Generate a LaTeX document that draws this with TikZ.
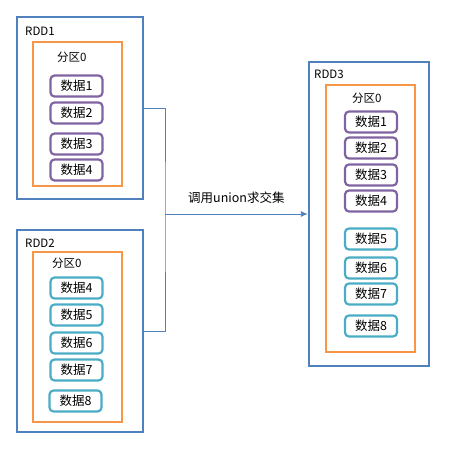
\documentclass[tikz,border=0pt]{standalone}
\usepackage{fontspec}
\setmainfont{Noto Sans CJK SC}
\usepackage{tikz}
\usetikzlibrary{arrows.meta,positioning}
\definecolor{rddblue}{RGB}{79,129,189}
\definecolor{partorange}{RGB}{247,150,70}
\definecolor{datapurple}{RGB}{128,100,162}
\definecolor{datateal}{RGB}{75,172,198}

\begin{document}
\begin{tikzpicture}[x=1pt, y=-1pt,
  >={Latex[length=7pt,width=6pt]},
  rdd/.style={draw=rddblue, line width=2.4pt, inner sep=0pt},
  part/.style={draw=partorange, line width=2.4pt, inner sep=0pt},
  lbl/.style={font=\fontsize{11.5}{12}\selectfont, inner sep=0pt, anchor=west},
  dat/.style={draw=#1, line width=2.2pt, rounded corners=4pt, minimum width=52pt,
              minimum height=21pt, inner sep=0pt, font=\fontsize{12.5}{13}\selectfont}]
\useasboundingbox (0,0) rectangle (453,456);
% RDD1
\node[rdd, minimum width=126pt, minimum height=182pt] (rdd1) at (80,108) {};
\node[part, minimum width=89pt, minimum height=144pt] (p1) at (77.5,114) {};
\node[lbl] (rdd1lbl) at (25,31) {RDD1};
\node[lbl] (p1lbl) at (57,57) {分区0};
\node[dat=datapurple] (a1) at (76.5,86) {数据1};
\node[dat=datapurple] (a2) at (76.5,113) {数据2};
\node[dat=datapurple] (a3) at (76.5,144) {数据3};
\node[dat=datapurple] (a4) at (76.5,170) {数据4};
% RDD2
\node[rdd, minimum width=126pt, minimum height=202pt] (rdd2) at (80,331) {};
\node[part, minimum width=89pt, minimum height=170pt] (p2) at (77.5,337) {};
\node[lbl] (rdd2lbl) at (25,243) {RDD2};
\node[lbl] (p2lbl) at (52,263) {分区0};
\node[dat=datateal] (b4) at (76.5,288) {数据4};
\node[dat=datateal] (b5) at (76.5,315) {数据5};
\node[dat=datateal] (b6) at (76.5,343) {数据6};
\node[dat=datateal] (b7) at (76.5,370) {数据7};
\node[dat=datateal] (b8) at (75.5,401) {数据8};
% RDD3
\node[rdd, minimum width=120pt, minimum height=304pt] (rdd3) at (369,214) {};
\node[part, minimum width=89pt, minimum height=267pt] (p3) at (370.5,218.5) {};
\node[lbl] (rdd3lbl) at (314,74) {RDD3};
\node[lbl] (p3lbl) at (352,98) {分区0};
\node[dat=datapurple] (c1) at (371,122) {数据1};
\node[dat=datapurple] (c2) at (371,148) {数据2};
\node[dat=datapurple] (c3) at (371,175) {数据3};
\node[dat=datapurple] (c4) at (371,201) {数据4};
\node[dat=datateal] (c5) at (371,239) {数据5};
\node[dat=datateal] (c6) at (371,268) {数据6};
\node[dat=datateal] (c7) at (371,294) {数据7};
\node[dat=datateal] (c8) at (371,326) {数据8};
% union
\coordinate (join) at (165,214);
\draw[rddblue, line width=0.9pt] (rdd1.east) -| (join) |- (rdd2.east);
\draw[->, rddblue, line width=0.9pt] (join) -- (join -| rdd3.west)
  node[midway, above=7pt, text=black, font=\fontsize{12.5}{13}\selectfont] (op) {调用union求交集};
\end{tikzpicture}
\end{document}
